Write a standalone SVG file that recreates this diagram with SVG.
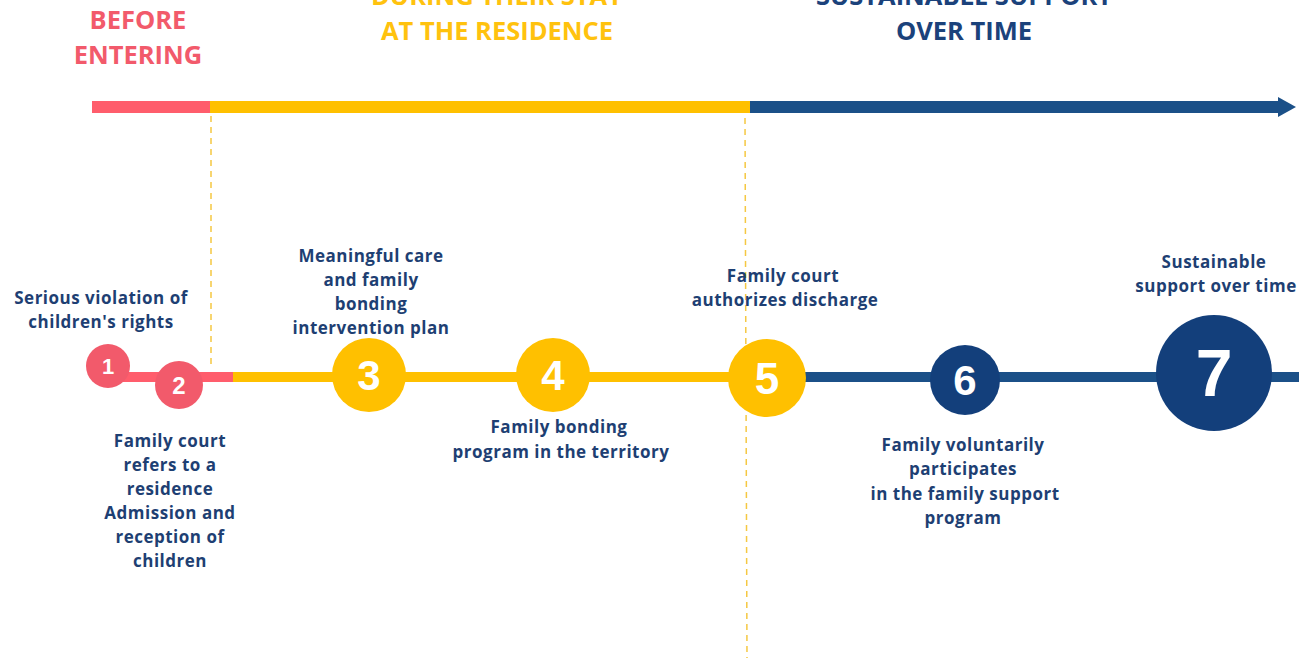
<svg xmlns="http://www.w3.org/2000/svg" width="1299" height="658" viewBox="0 0 1299 658">
<style>
.hd{font-family:"Open Sans","Liberation Sans",sans-serif;font-weight:bold;font-size:25.5px;text-anchor:middle}
.lb{font-family:"Open Sans","Liberation Sans",sans-serif;font-weight:bold;font-size:17px;letter-spacing:0.5px;fill:#1e3f73;text-anchor:middle}
.num{font-family:"Liberation Sans",Arial,sans-serif;font-weight:bold;fill:#fff;text-anchor:middle}
.dash{stroke:#f5c842;stroke-width:1.5;stroke-dasharray:6 5;fill:none}
</style>
<rect width="1299" height="658" fill="#fff"/>
<g id="headers">
<text class="hd" fill="#f25a6b"><tspan x="138" y="29">BEFORE</tspan><tspan x="138" y="64">ENTERING</tspan></text>
<text class="hd" fill="#ffc20e"><tspan x="497" y="5">DURING THEIR STAY</tspan><tspan x="497" y="40">AT THE RESIDENCE</tspan></text>
<text class="hd" fill="#1b427b"><tspan x="964" y="5">SUSTAINABLE SUPPORT</tspan><tspan x="964" y="40">OVER TIME</tspan></text>
</g>
<g id="connectors">
<line x1="92" y1="107" x2="211" y2="107" stroke="#ff5d6c" stroke-width="12"/>
<line x1="210" y1="107" x2="751" y2="107" stroke="#ffc000" stroke-width="12"/>
<line x1="750" y1="107" x2="1280" y2="107" stroke="#1b5088" stroke-width="12"/>
<polygon points="1278,97 1296,107 1278,117" fill="#1b5088"/>
<line class="dash" x1="211" y1="116" x2="211" y2="368"/>
<line class="dash" x1="745" y1="118" x2="747" y2="658"/>
<line x1="108" y1="377" x2="234" y2="377" stroke="#ff5d6c" stroke-width="10"/>
<line x1="233" y1="377" x2="771" y2="377" stroke="#ffc000" stroke-width="10"/>
<line x1="770" y1="377" x2="1299" y2="377" stroke="#1b5088" stroke-width="10"/>
</g>
<g id="n1"><circle cx="108" cy="366" r="22" fill="#f25a6b"/><text class="num" x="108" y="374" font-size="22">1</text></g>
<g id="n2"><circle cx="179" cy="385" r="24" fill="#f25a6b"/><text class="num" x="179" y="394" font-size="24">2</text></g>
<g id="n3"><circle cx="369" cy="375" r="37" fill="#ffc000"/><text class="num" x="369" y="390" font-size="42">3</text></g>
<g id="n4"><circle cx="553" cy="375" r="37" fill="#ffc000"/><text class="num" x="553" y="390" font-size="42">4</text></g>
<g id="n5"><circle cx="767" cy="378" r="39" fill="#ffc000"/><text class="num" x="767" y="394" font-size="44">5</text></g>
<g id="n6"><circle cx="965" cy="380" r="35" fill="#133f7b"/><text class="num" x="965" y="395" font-size="42">6</text></g>
<g id="n7"><circle cx="1214" cy="373" r="58" fill="#133f7b"/><text class="num" x="1214" y="396" font-size="66">7</text></g>
<g id="labels">
<text class="lb"><tspan x="101" y="304">Serious violation of</tspan><tspan x="101" y="328">children's rights</tspan></text>
<text class="lb"><tspan x="371" y="262">Meaningful care</tspan><tspan x="371" y="286">and family</tspan><tspan x="371" y="310">bonding</tspan><tspan x="371" y="334">intervention plan</tspan></text>
<text class="lb"><tspan x="170" y="447">Family court</tspan><tspan x="170" y="471">refers to a</tspan><tspan x="170" y="495">residence</tspan><tspan x="170" y="519">Admission and</tspan><tspan x="170" y="543">reception of</tspan><tspan x="170" y="567">children</tspan></text>
<text class="lb"><tspan x="559" y="433">Family bonding</tspan><tspan x="561" y="458">program in the territory</tspan></text>
<text class="lb"><tspan x="783" y="282">Family court</tspan><tspan x="785" y="306">authorizes discharge</tspan></text>
<text class="lb"><tspan x="963" y="451">Family voluntarily</tspan><tspan x="963" y="475">participates</tspan><tspan x="965" y="500">in the family support</tspan><tspan x="963" y="524">program</tspan></text>
<text class="lb"><tspan x="1214" y="268">Sustainable</tspan><tspan x="1216" y="292">support over time</tspan></text>
</g>
</svg>
